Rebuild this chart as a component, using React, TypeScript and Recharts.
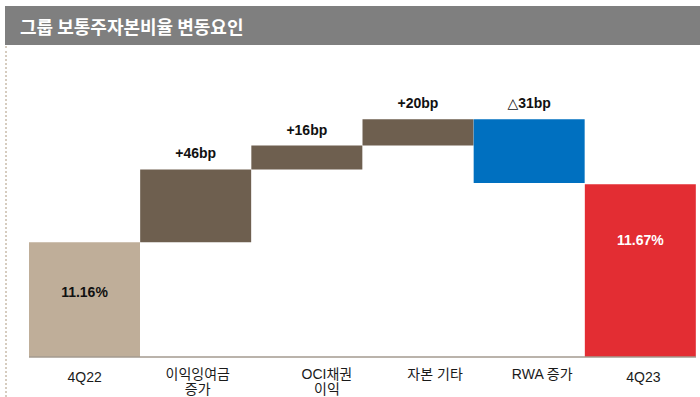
import React from 'react';
import { BarChart, Bar, XAxis, YAxis, Cell, LabelList } from 'recharts';

const categories = ['4Q22', '이익잉여금\n증가', 'OCI채권\n이익', '자본 기타', 'RWA 증가', '4Q23'];
const barLow = [10.15, 11.16, 11.8, 12.01, 11.68, 10.15];
const barHigh = [11.16, 11.8, 12.01, 12.24, 12.24, 11.67];
const valueLabels = ['11.16%', '+46bp', '+16bp', '+20bp', '△31bp', '11.67%'];
const barColors = ['#bfae99', '#6e5f4f', '#6e5f4f', '#6e5f4f', '#0070c0', '#e32d33'];
const title = '그룹 보통주자본비율 변동요인';

const data = categories.map((name, i) => ({
  name,
  range: [barLow[i], barHigh[i]],
  label: valueLabels[i],
}));

const FONT = "'Liberation Sans', Arial, 'Noto Sans CJK KR', sans-serif";
const LABEL_FONT = "'Liberation Sans', Arial, 'DejaVu Sans', sans-serif";
const tickDx = [0, 2, 20, 17, 13, 3];

const CustomTick = (props: any) => {
  const { x, y, payload, index } = props;
  const lines = String(payload.value).split('\n');
  const dx = tickDx[index] ?? 0;
  const latinOnly = lines.length === 1 && /^[0-9A-Z]+$/.test(lines[0]);
  const base = y + 14 + (latinOnly ? 3 : 0);
  return (
    <g>
      {lines.map((ln: string, k: number) => (
        <text
          key={k}
          x={x + dx}
          y={base + k * 15}
          textAnchor="middle"
          fontFamily={FONT}
          fontSize={14}
          fill="#1a1a1a"
        >
          {ln}
        </text>
      ))}
    </g>
  );
};

const renderLabel = (props: any) => {
  const { x, y, width, height, index, value } = props;
  const top = Math.min(y, y + height);
  const cx = x + width / 2;
  let cy: number;
  if (index === 0) cy = top + 50;
  else if (index === categories.length - 1) cy = top + 56;
  else cy = top - 16;
  const inside = index === categories.length - 1;
  return (
    <text
      x={cx}
      y={cy}
      textAnchor="middle"
      dominantBaseline="central"
      fontFamily={LABEL_FONT}
      fontWeight="bold"
      fontSize={14}
      fill={inside ? '#ffffff' : '#111111'}
    >
      {value}
    </text>
  );
};

export default function App() {
  return (
    <div style={{ position: 'absolute', left: 0, top: 0, width: 700, height: 397, background: '#ffffff', overflow: 'hidden' }}>
      <div
        style={{
          position: 'absolute',
          left: 5,
          top: 6,
          width: 695,
          height: 39,
          background: '#7f7f7f',
          color: '#ffffff',
          fontFamily: "'Noto Sans CJK KR', sans-serif",
          fontWeight: 'bold',
          fontSize: 18,
          lineHeight: '39px',
          paddingLeft: 15,
          boxSizing: 'border-box',
          paddingTop: 1,
        }}
      >
        {title}
      </div>
      <div
        style={{
          position: 'absolute',
          left: 5,
          top: 46,
          width: 0,
          height: 351,
          borderLeft: '2px dotted #d6ccbf',
        }}
      />
      <div style={{ position: 'absolute', left: 0, top: 0 }}>
        <BarChart
          width={700}
          height={397}
          data={data}
          margin={{ top: 50, right: 4, left: 29, bottom: 0 }}
          barCategoryGap={0}
          barGap={0}
        >
          <XAxis
            dataKey="name"
            height={40}
            interval={0}
            tickLine={false}
            axisLine={{ stroke: '#a39a8f', strokeWidth: 1.5 }}
            tick={<CustomTick />}
          />
          <YAxis hide domain={[10.15, 12.85]} allowDataOverflow />
          <Bar dataKey="range" isAnimationActive={false}>
            {data.map((_, i) => (
              <Cell key={i} fill={barColors[i]} />
            ))}
            <LabelList dataKey="label" content={renderLabel} />
          </Bar>
        </BarChart>
      </div>
    </div>
  );
}
